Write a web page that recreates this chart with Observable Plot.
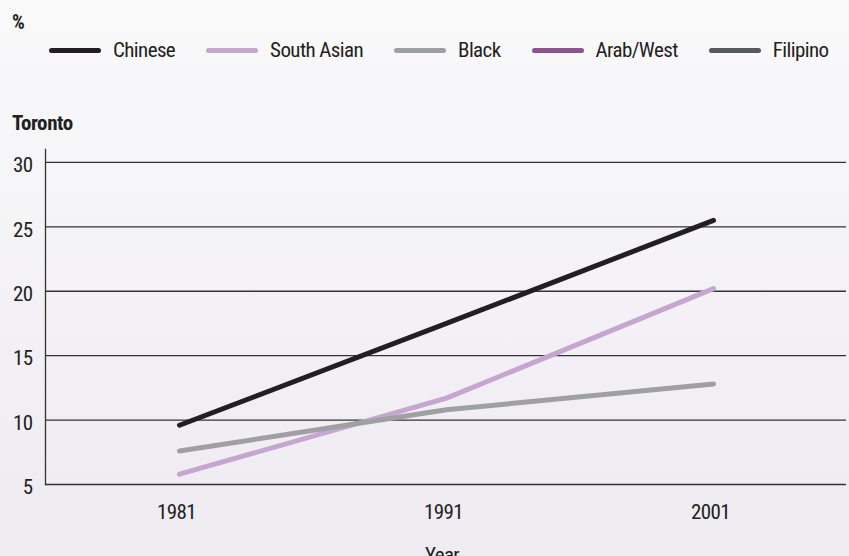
<!DOCTYPE html>
<html>
<head>
<meta charset="utf-8">
<script src="https://cdn.jsdelivr.net/npm/d3@7"></script>
<script src="https://cdn.jsdelivr.net/npm/@observablehq/plot@0.6"></script>
<style>
  html, body { margin: 0; padding: 0; }
  body {
    width: 849px; height: 556px; overflow: hidden;
    background: linear-gradient(#f9f9fa, #eeebf1);
    font-family: "Liberation Sans Narrow", "Roboto Condensed", "DejaVu Sans Condensed", Roboto, sans-serif;
    color: #231f20;
  }
  #wrap { position: relative; width: 849px; height: 556px; }
  #header { position: relative; height: 140px; }
  .unit { position: absolute; left: 12px; top: 12px; font-size: 20px; line-height: 20px; font-weight: bold; }
  .legend { position: absolute; left: 49px; top: 40px; display: flex; align-items: center; font-size: 21px; line-height: 21px; letter-spacing: -0.6px; }
  .item { display: flex; align-items: center; margin-right: 31px; white-space: nowrap; }
  .swatch { width: 52px; height: 5px; border-radius: 3px; margin-right: 12px; }
  .region { position: absolute; left: 12px; top: 113px; font-size: 21px; line-height: 21px; font-weight: bold; letter-spacing: -0.4px; }
  svg { display: block; }
  svg text { letter-spacing: -0.6px; }
</style>
</head>
<body>
<div id="wrap">
  <div id="header">
    <div class="unit">%</div>
    <div class="legend" id="legend"></div>
    <div class="region">Toronto</div>
  </div>
  <div id="chart"></div>
</div>
<script>
// Census years on the x axis
const years = ["1981", "1991", "2001"];

// Visible-minority groups and their line colours
const groups = ["Chinese", "South Asian", "Black", "Arab/West", "Filipino"];
const colors = ["#231f20", "#c5a6d0", "#9fa0a3", "#8d5194", "#58595b"];

// Share of the population (%), Toronto
const chinese    = [9.6, 17.5, 25.5];
const southAsian = [5.8, 11.7, 20.2];
const black      = [7.6, 10.8, 12.8];

// Y-axis ticks
const yTicks = [5, 10, 15, 20, 25, 30];

const series = [
  ["Chinese", chinese],
  ["South Asian", southAsian],
  ["Black", black]
];
const rows = series.flatMap(([group, values]) =>
  values.map((value, i) => ({ group, year: years[i], value }))
);

// Legend
const legend = document.getElementById("legend");
groups.forEach((g, i) => {
  const item = document.createElement("div");
  item.className = "item";
  const sw = document.createElement("div");
  sw.className = "swatch";
  sw.style.background = colors[i];
  const label = document.createElement("span");
  label.textContent = g;
  item.append(sw, label);
  legend.append(item);
});

const font = '"Liberation Sans Narrow", "Roboto Condensed", "DejaVu Sans Condensed", Roboto, sans-serif';

const chart = Plot.plot({
  width: 849,
  height: 416,
  marginTop: 9,
  marginBottom: 72,
  marginLeft: 45,
  marginRight: 3,
  x: { type: "point", domain: years, padding: 0.5 },
  y: { domain: [5, 31] },
  color: { domain: groups, range: colors },
  style: { fontFamily: font, fontSize: "21px", color: "#231f20", background: "transparent", overflow: "visible" },
  marks: [
    Plot.ruleY(yTicks, { stroke: "#333", strokeWidth: 1.3 }),
    Plot.frame({ anchor: "left", stroke: "#333", strokeWidth: 1.3 }),
    Plot.lineY(rows, {
      x: "year", y: "value", z: "group", stroke: "group",
      strokeWidth: 5, strokeLinecap: "round", strokeLinejoin: "round"
    }),
    Plot.axisY({ ticks: yTicks, tickSize: 0, tickPadding: 13, dy: 3, label: null }),
    Plot.axisX({ tickSize: 0, tickPadding: 20, dx: -3, label: null }),
    Plot.text(["Year"], { frameAnchor: "bottom", dx: -4, dy: 63, lineAnchor: "top", text: d => d, fill: "#231f20" })
  ]
});
document.getElementById("chart").append(chart);
</script>
</body>
</html>
